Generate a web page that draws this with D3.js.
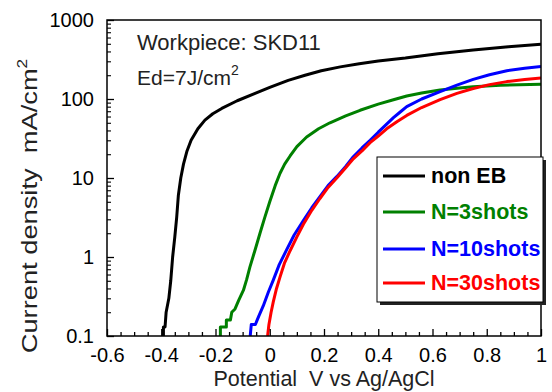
<!DOCTYPE html>
<html><head><meta charset="utf-8">
<script src="https://cdn.jsdelivr.net/npm/d3@7/dist/d3.min.js"></script>
<style>
html,body{margin:0;padding:0;background:#fff;}
svg{display:block;font-family:"Liberation Sans",Arial,sans-serif;}
</style></head>
<body>
<svg id="chart" width="552" height="392"></svg>
<script>
// ---- data (potential V, current density mA/cm2) ----
const seriesNames = ["non EB", "N=3shots", "N=10shots", "N=30shots"];
const seriesColors = ["#000000", "#008000", "#0000ff", "#ff0000"];
const nonEB = [[-0.392,0.1],[-0.392,0.13],[-0.386,0.13],[-0.382,0.2],[-0.372,0.3],[-0.365,0.5],[-0.358,1.0],[-0.35,1.8],[-0.343,3.2],[-0.337,6],[-0.328,10],[-0.318,15],[-0.305,22],[-0.29,30],[-0.265,42],[-0.239,54],[-0.21,65],[-0.177,76],[-0.12,95],[-0.054,118],[0.0,140],[0.068,172],[0.13,200],[0.19,228],[0.26,255],[0.33,280],[0.4,302],[0.5,330],[0.62,375],[0.75,417],[0.88,458],[1.0,495]];
const n3 = [[-0.182,0.1],[-0.182,0.13],[-0.16,0.13],[-0.16,0.16],[-0.145,0.16],[-0.14,0.2],[-0.128,0.22],[-0.115,0.28],[-0.097,0.38],[-0.085,0.52],[-0.073,0.75],[-0.055,1.2],[-0.036,2],[-0.018,3.2],[0.0,5.0],[0.02,8],[0.038,11.5],[0.055,15],[0.075,19],[0.1,25],[0.136,33],[0.18,42],[0.222,50],[0.28,61],[0.333,72],[0.4,86],[0.456,98],[0.505,109],[0.56,119],[0.628,130],[0.7,138],[0.75,143],[0.85,149],[1.0,154]];
const n10 = [[-0.072,0.1],[-0.068,0.14],[-0.053,0.14],[-0.04,0.18],[-0.024,0.24],[-0.005,0.36],[0.013,0.51],[0.035,0.8],[0.062,1.23],[0.09,1.9],[0.124,2.9],[0.155,4.2],[0.185,5.8],[0.215,8],[0.247,10.4],[0.28,14],[0.308,18.6],[0.34,24],[0.37,30],[0.4,38],[0.431,48],[0.456,58],[0.48,68],[0.505,80],[0.56,100],[0.628,124],[0.69,150],[0.75,177],[0.81,203],[0.874,228],[0.94,245],[1.0,258]];
const n30 = [[-0.008,0.1],[-0.003,0.14],[0.005,0.2],[0.013,0.27],[0.025,0.4],[0.038,0.56],[0.055,0.85],[0.075,1.2],[0.1,1.8],[0.124,2.6],[0.155,3.9],[0.185,5.5],[0.215,7.6],[0.247,10],[0.28,13.5],[0.308,17.5],[0.34,22],[0.37,28],[0.4,34],[0.431,42],[0.47,52],[0.505,62],[0.56,78],[0.628,98],[0.69,118],[0.75,136],[0.81,152],[0.874,166],[0.94,176],[1.0,184]];
const xTickLabels = ["-0.6","-0.4","-0.2","0","0.2","0.4","0.6","0.8","1"];
const yTickLabels = ["0.1","1","10","100","1000"];
const allSeries = [nonEB, n3, n10, n30];

// ---- layout ----
const L = 107, R = 541, T = 20, B = 336;
const svg = d3.select("#chart");
const x = d3.scaleLinear().domain([-0.6, 1]).range([L, R]);
const y = d3.scaleLog().domain([0.1, 1000]).range([B, T]);
const font = 20;
const ff = "'Liberation Sans',Arial,sans-serif";

// clip
svg.append("clipPath").attr("id","clip").append("rect")
  .attr("x", L).attr("y", T).attr("width", R-L).attr("height", B-T);

// curves
const line = d3.line().x(d => x(d[0])).y(d => y(d[1]));
const g = svg.append("g").attr("clip-path","url(#clip)");
allSeries.forEach((s,i) => {
  g.append("path").datum(s).attr("d", line)
    .attr("fill","none").attr("stroke", seriesColors[i])
    .attr("stroke-width", 3).attr("stroke-linejoin","round");
});

// frame
svg.append("rect").attr("x", L).attr("y", T).attr("width", R-L).attr("height", B-T)
  .attr("fill","none").attr("stroke","#000").attr("stroke-width",1.5);

// x axis (ticks inward)
const xMinor = d3.range(-0.6, 1.0001, 0.05).map(v => +v.toFixed(2));
const xMajor = xTickLabels.map(Number);
const xAxis = d3.axisBottom(x).tickValues(xMajor).tickSizeInner(-7).tickSizeOuter(0)
  .tickFormat((d,i) => xTickLabels[i]).tickPadding(12);
const gx = svg.append("g").attr("transform", `translate(0,${B})`).call(xAxis);
gx.select(".domain").remove();
gx.selectAll(".tick line").attr("stroke","#000").attr("stroke-width",1.3);
gx.selectAll(".tick text").attr("font-size", font).attr("fill","#000").attr("font-family", ff);
const xAxisMinor = d3.axisBottom(x).tickValues(xMinor.filter(v => !xMajor.some(m => Math.abs(m-v)<1e-6)))
  .tickSizeInner(-4).tickSizeOuter(0).tickFormat("");
const gxm = svg.append("g").attr("transform", `translate(0,${B})`).call(xAxisMinor);
gxm.select(".domain").remove();
gxm.selectAll(".tick line").attr("stroke","#000").attr("stroke-width",1.3);

// y axis
const yMajor = yTickLabels.map(Number);
const yAxis = d3.axisLeft(y).tickValues(yMajor).tickSizeInner(-7).tickSizeOuter(0)
  .tickFormat((d,i) => yTickLabels[i]).tickPadding(13);
const gy = svg.append("g").attr("transform", `translate(${L},0)`).call(yAxis);
gy.select(".domain").remove();
gy.selectAll(".tick line").attr("stroke","#000").attr("stroke-width",1.3);
gy.selectAll(".tick text").attr("font-size", font).attr("fill","#000").attr("font-family", ff);
const yMinor = [];
for (let e = -1; e < 3; e++) for (let k = 2; k <= 9; k++) yMinor.push(k * Math.pow(10, e));
const gym = svg.append("g").attr("transform", `translate(${L},0)`)
  .call(d3.axisLeft(y).tickValues(yMinor).tickSizeInner(-4).tickSizeOuter(0).tickFormat(""));
gym.select(".domain").remove();
gym.selectAll(".tick line").attr("stroke","#000").attr("stroke-width",1.1);

// axis titles
svg.append("text").attr("x", 324).attr("y", 386).attr("text-anchor","middle")
  .attr("font-size", 21.5).attr("fill","#222").text("Potential\u00a0\u00a0V vs Ag/AgCl");
const yt = svg.append("text").attr("transform","translate(37,206) rotate(-90) scale(1.24,1)")
  .attr("text-anchor","middle").attr("font-size", 22).attr("fill","#222");
yt.append("tspan").text("Current density\u00a0\u00a0mA/cm");
yt.append("tspan").attr("font-size", 14).attr("dy", -10).text("2");

// annotations
svg.append("text").attr("x", 137).attr("y", 50).attr("font-size", 22).attr("fill","#222")
  .text("Workpiece: SKD11");
const ed = svg.append("text").attr("x", 137).attr("y", 85).attr("font-size", 21).attr("fill","#222");
ed.append("tspan").text("Ed=7J/cm");
ed.append("tspan").attr("font-size", 14).attr("dy", -10).text("2");

// legend
const lg = svg.append("g");
lg.append("rect").attr("x", 380).attr("y", 160).attr("width", 166).attr("height", 145).attr("fill","#222");
lg.append("rect").attr("x", 377).attr("y", 157).attr("width", 166).attr("height", 145)
  .attr("fill","#fff").attr("stroke","#000").attr("stroke-width",1);
const rowY = [176, 212, 249, 283];
seriesNames.forEach((n,i) => {
  lg.append("line").attr("x1", 383).attr("x2", 425).attr("y1", rowY[i]).attr("y2", rowY[i])
    .attr("stroke", seriesColors[i]).attr("stroke-width", 3);
  lg.append("text").attr("x", 431).attr("y", rowY[i] + 7).attr("font-size", 21.5)
    .attr("font-weight","bold").attr("fill", seriesColors[i]).text(n);
});
</script>
</body></html>
